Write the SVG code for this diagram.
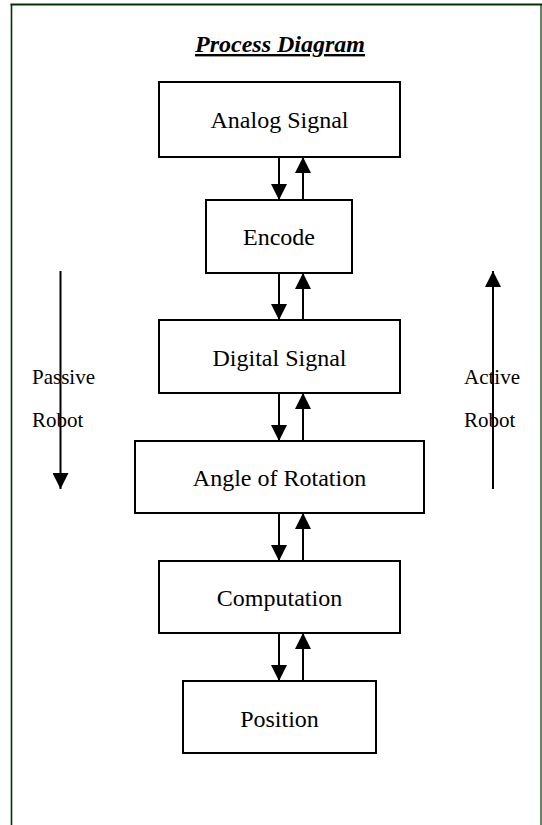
<svg xmlns="http://www.w3.org/2000/svg" width="542" height="825" viewBox="0 0 542 825">
<defs>
<style>
.box{fill:#fff;stroke:#000;stroke-width:2}
.lbl{font-family:"Liberation Serif","Times New Roman",serif;font-size:24px;fill:#000;text-anchor:middle}
.side{font-family:"Liberation Serif","Times New Roman",serif;font-size:21px;fill:#000}
.ln{stroke:#000;stroke-width:2;fill:none}
.frame{stroke:#003300;fill:none}
</style>
<marker id="ah" viewBox="0 0 16 16" refX="16" refY="8" markerWidth="16" markerHeight="16" markerUnits="userSpaceOnUse" orient="auto">
<path d="M0,0 L16,8 L0,16 Z" fill="#000"/>
</marker>
</defs>
<rect width="542" height="825" fill="#fff"/>
<g id="frame">
<line class="frame" x1="10.5" y1="4.5" x2="542" y2="4.5" stroke-width="2.2"/>
<line class="frame" x1="11.5" y1="4" x2="11.5" y2="825" stroke-width="1.6"/>
<line class="frame" x1="541" y1="4" x2="541" y2="825" stroke-width="1.2"/>
</g>
<g id="title">
<text x="280" y="52" text-anchor="middle" style="font-family:'Liberation Serif','Times New Roman',serif;font-size:24px;font-weight:bold;font-style:italic;text-decoration:underline">Process Diagram</text>
</g>
<g id="analog"><rect class="box" x="159" y="82" width="241" height="75"/><text class="lbl" x="279.5" y="128">Analog Signal</text></g>
<g id="encode"><rect class="box" x="206" y="200" width="146" height="73"/><text class="lbl" x="279" y="245">Encode</text></g>
<g id="digital"><rect class="box" x="159" y="320" width="241" height="73"/><text class="lbl" x="279.5" y="366">Digital Signal</text></g>
<g id="angle"><rect class="box" x="135" y="441" width="289" height="72"/><text class="lbl" x="279.5" y="486">Angle of Rotation</text></g>
<g id="computation"><rect class="box" x="159" y="561" width="241" height="72"/><text class="lbl" x="279.5" y="606">Computation</text></g>
<g id="position"><rect class="box" x="183" y="681" width="193" height="72"/><text class="lbl" x="279.5" y="727">Position</text></g>
<g id="passive"><text class="side" x="32" y="384">Passive</text><text class="side" x="32" y="427">Robot</text></g>
<g id="active"><text class="side" x="464" y="384">Active</text><text class="side" x="464" y="427">Robot</text></g>
<g id="connectors">
<line class="ln" x1="279" y1="157" x2="279" y2="200" marker-end="url(#ah)"/>
<line class="ln" x1="303" y1="200" x2="303" y2="157" marker-end="url(#ah)"/>
<line class="ln" x1="279" y1="273" x2="279" y2="320" marker-end="url(#ah)"/>
<line class="ln" x1="303" y1="320" x2="303" y2="273" marker-end="url(#ah)"/>
<line class="ln" x1="279" y1="393" x2="279" y2="441" marker-end="url(#ah)"/>
<line class="ln" x1="303" y1="441" x2="303" y2="393" marker-end="url(#ah)"/>
<line class="ln" x1="279" y1="513" x2="279" y2="561" marker-end="url(#ah)"/>
<line class="ln" x1="303" y1="561" x2="303" y2="513" marker-end="url(#ah)"/>
<line class="ln" x1="279" y1="633" x2="279" y2="681" marker-end="url(#ah)"/>
<line class="ln" x1="303" y1="681" x2="303" y2="633" marker-end="url(#ah)"/>
<line class="ln" x1="60.5" y1="271" x2="60.5" y2="489" marker-end="url(#ah)"/>
<line class="ln" x1="493" y1="489" x2="493" y2="271" marker-end="url(#ah)"/>
</g>
</svg>
